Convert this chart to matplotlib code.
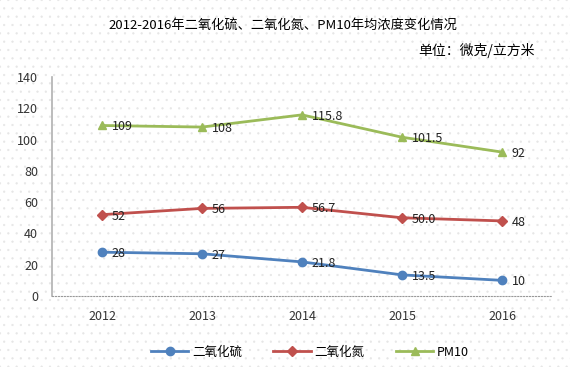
import matplotlib.pyplot as plt
from matplotlib.patches import Rectangle

plt.rcParams['font.family'] = ['Noto Sans CJK SC', 'DejaVu Sans']

years = ['2012', '2013', '2014', '2015', '2016']
so2 = [28, 27, 21.8, 13.5, 10]
no2 = [52, 56, 56.7, 50.0, 48]
pm10 = [109, 108, 115.8, 101.5, 92]
so2_labels = ['28', '27', '21.8', '13.5', '10']
no2_labels = ['52', '56', '56.7', '50.0', '48']
pm10_labels = ['109', '108', '115.8', '101.5', '92']

fig = plt.figure(figsize=(5.7, 3.67), dpi=100)
# faint dotted background
plt.rcParams['hatch.linewidth'] = 0.4
fig.patches.append(Rectangle((0, 0), 1, 1, transform=fig.transFigure,
                             facecolor='white', edgecolor='#e6e6e6',
                             hatch='..', linewidth=0, zorder=-10))

ax = fig.add_axes([52/570, 71/367, 500/570, 219/367])
ax.patch.set_alpha(0)

x = list(range(len(years)))
series = [
    (so2, so2_labels, '#4F81BD', 'o', '二氧化硫'),
    (no2, no2_labels, '#C0504D', 'D', '二氧化氮'),
    (pm10, pm10_labels, '#9BBB59', '^', 'PM10'),
]
for vals, labs, col, mk, name in series:
    ax.plot(x, vals, color=col, marker=mk, markersize=6 if mk != 'D' else 5.5,
            linewidth=2, label=name)
    for xi, v, t in zip(x, vals, labs):
        ax.annotate(t, (xi, v), xytext=(7, -1), textcoords='offset points',
                    ha='left', va='center', fontsize=9, color='#222222')

ax.set_xlim(-0.5, 4.5)
ax.set_ylim(0, 140)
ax.set_yticks(range(0, 141, 20))
ax.set_xticks(x)
ax.set_xticklabels(years)
ax.tick_params(length=0, labelsize=9, colors='#333333')
ax.tick_params(axis='y', pad=10)
ax.tick_params(axis='x', pad=10)
for s in ['top', 'right']:
    ax.spines[s].set_visible(False)
ax.spines['left'].set_color('#b0b0b0')
ax.spines['left'].set_linewidth(1.2)
ax.spines['bottom'].set_color('#999999')
ax.spines['bottom'].set_linestyle(':')

fig.text(283/570, 1 - 25/367, '2012-2016年二氧化硫、二氧化氮、PM10年均浓度变化情况',
         ha='center', va='center', fontsize=9.5)
fig.text(535/570, 1 - 50/367, '单位：微克/立方米', ha='right', va='center', fontsize=10)

fig.legend(loc='center', bbox_to_anchor=(310/570, 1 - 352/367), ncol=3,
           frameon=False, fontsize=9, handlelength=3, columnspacing=2.5,
           handletextpad=0.3)

fig.savefig('out.png', dpi=100)
